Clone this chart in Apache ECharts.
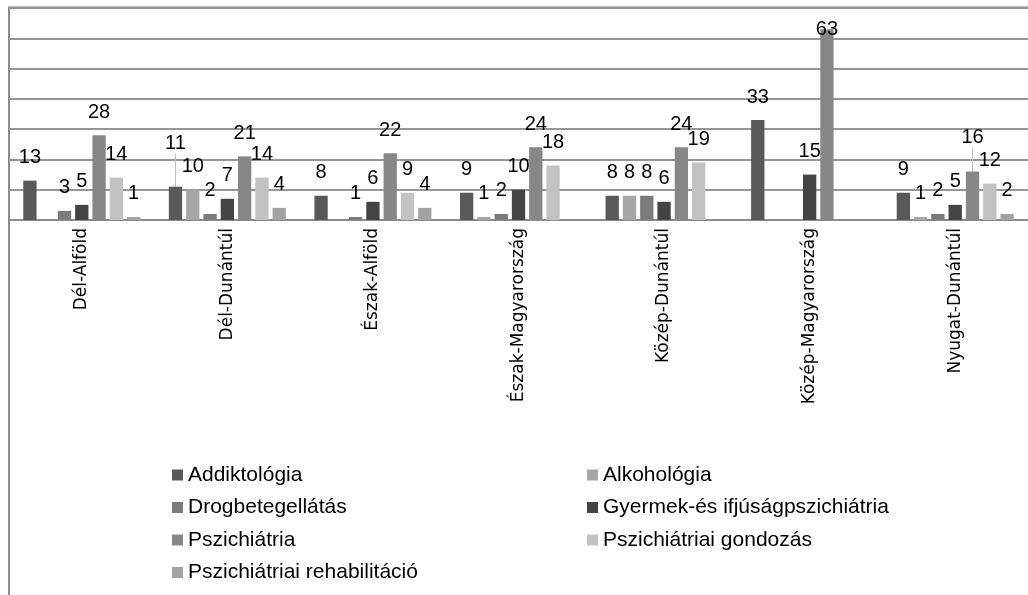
<!DOCTYPE html>
<html>
<head>
<meta charset="utf-8">
<script src="https://cdn.jsdelivr.net/npm/echarts@6/dist/echarts.min.js"></script>
<style>
html,body{margin:0;padding:0;background:#fff;}
#chart{width:1028px;height:595px;}
</style>
</head>
<body>
<div id="chart"></div>
<script>
// ---- data ----
const categories = ['Dél-Alföld','Dél-Dunántúl','Észak-Alföld','Észak-Magyarország','Közép-Dunántúl','Közép-Magyarország','Nyugat-Dunántúl'];
const seriesNames = ['Addiktológia','Alkohológia','Drogbetegellátás','Gyermek-és ifjúságpszichiátria','Pszichiátria','Pszichiátriai gondozás','Pszichiátriai rehabilitáció'];
const addiktologia   = [13, 11, 8, 9, 8, 33, 9];
const alkohologia    = [null, 10, null, 1, 8, null, 1];
const drog           = [3, 2, 1, 2, 8, null, 2];
const gyermek        = [5, 7, 6, 10, 6, 15, 5];
const pszichiatria   = [28, 21, 22, 24, 24, 63, 16];
const gondozas       = [14, 14, 9, 18, 19, null, 12];
const rehabilitacio  = [1, 4, 4, null, null, null, 2];
const yTicks = [0, 10, 20, 30, 40, 50, 60, 70];

const seriesValues = [addiktologia, alkohologia, drog, gyermek, pszichiatria, gondozas, rehabilitacio];
const colors = ['#595959','#a6a6a6','#7b7b7b','#444444','#878787','#c2c2c2','#a3a3a3'];
// label adjustments as in the original (lifted labels get a leader line)
const labelShift = {'1|0': {dy: -20, line: true}, '6|4': {dy: -11, line: true}, '5|4': {dy: 23, line: false}};

const chart = echarts.init(document.getElementById('chart'));
const series = seriesValues.map((vals, si) => ({
  name: seriesNames[si],
  type: 'bar',
  barWidth: 13.3,
  barGap: '30%',
  itemStyle: {color: colors[si]},
  label: {
    show: true, position: 'top', distance: 13,
    fontFamily: 'Liberation Sans', fontSize: 20, color: '#000'
  },
  labelLine: {show: false, lineStyle: {color: '#bfbfbf', width: 1}},
  labelLayout: function (p) {
    const s = labelShift[p.dataIndex + '|' + si];
    return s ? {dy: s.dy} : {};
  },
  data: vals.map((v, ci) => {
    const s = labelShift[ci + '|' + si];
    if (s && s.line) return {value: v, labelLine: {show: true, lineStyle: {color: '#bfbfbf', width: 1}}};
    return v;
  })
}));

chart.setOption({
  animation: false,
  color: colors,
  grid: {left: 9, top: 8, width: 1032, height: 212, containLabel: false},
  xAxis: {
    type: 'category', data: categories,
    axisLine: {lineStyle: {color: '#8c8c8c', width: 2}},
    axisTick: {show: false},
    axisLabel: {rotate: 90, margin: 8, fontFamily: 'DejaVu Sans', fontSize: 17, color: '#000', interval: 0}
  },
  yAxis: {
    type: 'value', min: yTicks[0], max: yTicks[yTicks.length-1], interval: 10,
    axisLine: {show: false}, axisTick: {show: false}, axisLabel: {show: false},
    splitLine: {lineStyle: {color: '#969696', width: 2}}
  },
  legend: [
    {
      data: [seriesNames[0], seriesNames[2], seriesNames[4], seriesNames[6]],
      orient: 'vertical', left: 167, top: 459,
      icon: 'rect', itemWidth: 11, itemHeight: 11, itemGap: 10.5,
      textStyle: {fontFamily: 'Liberation Sans', fontSize: 21, lineHeight: 22, color: '#000'},
      selectedMode: false
    },
    {
      data: [seriesNames[1], seriesNames[3], seriesNames[5]],
      orient: 'vertical', left: 582, top: 459,
      icon: 'rect', itemWidth: 11, itemHeight: 11, itemGap: 10.5,
      textStyle: {fontFamily: 'Liberation Sans', fontSize: 21, lineHeight: 22, color: '#000'},
      selectedMode: false
    }
  ],
  graphic: [{
    type: 'polyline', silent: true,
    shape: {points: [[9, 600], [9, 7.5], [1030, 7.5]]},
    style: {stroke: '#8c8c8c', lineWidth: 2, fill: null}
  }],
  series: series
});
</script>
</body>
</html>
